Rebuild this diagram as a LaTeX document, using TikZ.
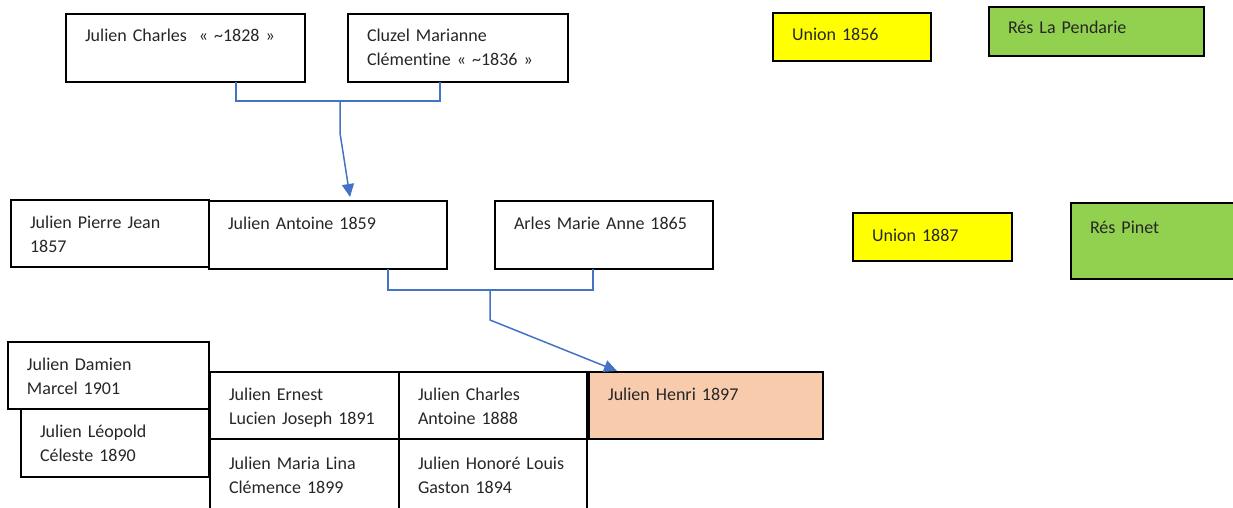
\documentclass[tikz,border=0pt]{standalone}
\usepackage{fontspec}
\setmainfont{Carlito}[Ligatures={NoCommon}]
\usepackage{xcolor}
\usepackage{tikz}
\usetikzlibrary{arrows.meta,positioning,calc}

\definecolor{linkblue}{HTML}{4472C4}
\definecolor{unionyellow}{HTML}{FFFF00}
\definecolor{placegreen}{HTML}{92D050}
\definecolor{selfpeach}{HTML}{F8CBAD}

\begin{document}
\begin{tikzpicture}[
    x=1pt, y=-1pt,
    font=\fontsize{18}{24}\selectfont,
    >={Triangle[length=13pt,width=12pt]},
    link/.style={draw=linkblue, line width=1.5pt},
    person/.style={
        draw,
        line width=1.2pt,
        anchor=north west,
        outer sep=0pt,
        align=left,
        inner xsep=19pt,
        inner ysep=0pt,
        text height=28pt,
        text depth=40pt,
        text=black!85
    },
    union/.style={
        person,
        fill=unionyellow,
        text depth=20pt
    },
    place/.style={
        person,
        fill=placegreen
    }
]

\clip (0,0) rectangle (1233,508);

% Grandparents
\node[person, text width=201pt] (charles) at (66,14)
{Julien Charles~ « \textasciitilde1828 »};
\node[person, text width=182pt] (cluzel) at (348,14)
{Cluzel Marianne\\Clémentine « \textasciitilde1836 »};
\node[union, text width=120pt] (union1856) at (773,13) {Union 1856};
\node[place, text width=177pt, text height=27pt, text depth=22pt] (pendarie) at (989,7)
{Rés La Pendarie};

% Parents
\node[person, text width=160pt, text depth=39pt] (pierre) at (11,200)
{Julien Pierre Jean\\1857};
\node[person, text width=200pt] (antoine) at (209,201) {Julien Antoine 1859};
\node[person, text width=180pt] (arles) at (495,201) {Arles Marie Anne 1865};
\node[union, text width=121pt] (union1887) at (853,213) {Union 1887};
\node[place, text width=142pt, text height=30pt, text depth=46pt] (pinet) at (1071,203)
{Rés Pinet};

% Children
\node[person, text width=163pt, text depth=39pt] (damien) at (8,342)
{Julien Damien\\Marcel 1901};
\node[person, text width=150pt] (leopold) at (21,409)
{Julien Léopold\\Céleste 1890};
\node[person, text width=151pt, text depth=39pt] (ernest) at (210,372)
{Julien Ernest\\Lucien Joseph 1891};
\node[person, text width=150pt, text depth=39pt] (charlesant) at (399,372)
{Julien Charles\\Antoine 1888};
\node[person, fill=selfpeach, text width=196pt, text depth=39pt] (henri) at (589,372)
{Julien Henri 1897};
\node[person, text width=151pt, text height=30pt, text depth=60pt] (maria) at (210,439)
{Julien Maria Lina\\Clémence 1899};
\node[person, text width=150pt, text height=30pt, text depth=60pt] (honore) at (399,439)
{Julien Honoré Louis\\Gaston 1894};

% Unions
\coordinate (couple1) at (340,101);
\coordinate (couple2) at (490,290);

\draw[link] ([xshift=50.5pt]charles.south) |- (couple1) -| ([xshift=-18pt]cluzel.south);
\draw[link, ->] (couple1) -- ++(0,32) -- ([xshift=22pt,yshift=4pt]antoine.north);

\draw[link] ([xshift=60pt]antoine.south) |- (couple2) -| ([xshift=-11pt]arles.south);
\draw[link, ->] (couple2) -- ++(0,30) -- ([xshift=28pt,yshift=1pt]henri.north west);

\end{tikzpicture}
\end{document}
